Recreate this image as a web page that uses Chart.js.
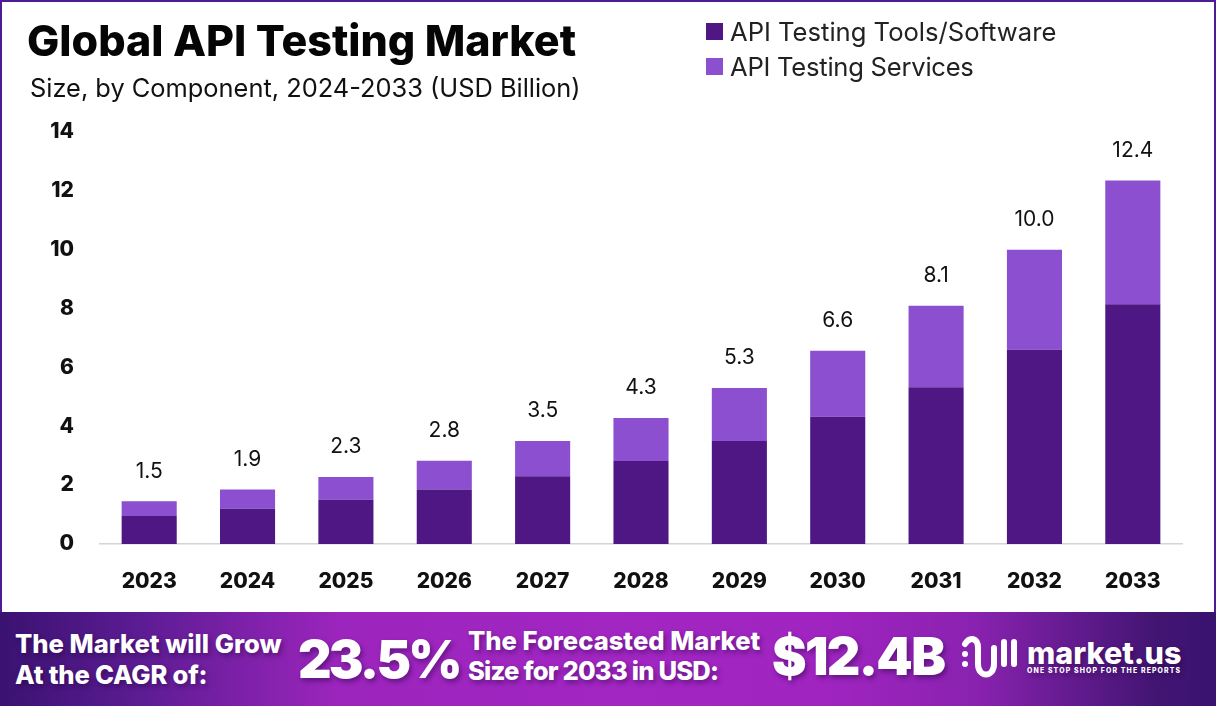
<!DOCTYPE html>
<html>
<head>
<meta charset="utf-8">
<title>Global API Testing Market</title>
<script src="https://cdn.jsdelivr.net/npm/chart.js@4/dist/chart.umd.min.js"></script>
<style>
    html, body { margin: 0; padding: 0; background: #fff; }
    body { width: 1216px; height: 706px; position: relative; overflow: hidden; font-family: Inter, sans-serif; color: #000; }
    .txt { position: absolute; white-space: nowrap; line-height: 1; }
    #frame { position: absolute; left: 0; top: 0; width: 1212px; height: 612px; border: 2px solid #4f1a96; border-bottom: 0; }
    #chartBox { position: absolute; left: 0; top: 0; width: 1216px; height: 612px; }
    #title { left: 27px; top: 18.5px; font-size: 43px; font-weight: 800; color: #050505; }
    #subtitle { left: 30px; top: 75px; font-size: 25.4px; font-weight: 400; color: #111; }
    .legendRow { position: absolute; left: 706px; font-size: 25.6px; color: #222; white-space: nowrap; line-height: 1; }
    .legendRow i { position: absolute; left: 0; top: 4px; width: 17px; height: 17px; }
    .legendRow span { position: absolute; left: 24px; top: 0; }
    #banner { position: absolute; left: 0; top: 612px; width: 1216px; height: 94px;
        background: linear-gradient(90deg, #3a1270 0%, #5e1c94 12%, #9c25bd 28%, #a226c2 50%, #a024c0 68%, #8a22b0 80%, #431573 95%, #3a1270 100%); }
    #banner .txt { color: #fff; text-shadow: 2px 3px 5px rgba(30, 0, 60, .45); }
    .small { font-size: 25.6px; font-weight: 800; }
    .big { font-size: 52px; font-weight: 900; }
</style>
</head>
<body>
<div id="frame"></div>
<div id="chartBox"><canvas id="apiChart" width="1216" height="612"></canvas></div>
<div class="txt" id="title">Global API Testing Market</div>
<div class="txt" id="subtitle">Size, by Component, 2024-2033 (USD Billion)</div>
<div id="legendBox"></div>
<div id="banner">
    <div class="txt small" style="left:15px;top:19px">The Market will Grow</div>
    <div class="txt small" style="left:15px;top:50px;letter-spacing:-0.2px">At the CAGR of:</div>
    <div class="txt big" style="left:298px;top:22px;letter-spacing:-2.8px">23.5%</div>
    <div class="txt small" style="left:468px;top:16px">The Forecasted Market</div>
    <div class="txt small" style="left:468px;top:46px;letter-spacing:-0.8px">Size for 2033 in USD:</div>
    <div class="txt big" style="left:772px;top:19px;letter-spacing:-1.7px">$12.4B</div>
    <svg style="position:absolute;left:960px;top:22px" width="64" height="50" viewBox="0 0 64 50" fill="none" stroke="#fff" stroke-linecap="round" stroke-width="6">
        <circle cx="5" cy="20" r="2" fill="#fff" stroke-width="2"/>
        <circle cx="5" cy="30" r="2" fill="#fff" stroke-width="2"/>
        <path d="M5 10 C10 2 18 4 18 14 V30 C18 44 34 44 34 30 V14"/>
        <path d="M44 8 V30"/>
        <path d="M54 8 V30"/>
    </svg>
    <div class="txt" style="left:1027px;top:26px;font-size:30.5px;font-weight:800;color:#fff">market.us</div>
    <div class="txt" style="left:1027px;top:56px;font-size:6.9px;font-weight:800;letter-spacing:1.15px;color:#fff">ONE STOP SHOP FOR THE REPORTS</div>
</div>
<script>
const years = ['2023', '2024', '2025', '2026', '2027', '2028', '2029', '2030', '2031', '2032', '2033'];
const toolsValues = [0.95, 1.2, 1.5, 1.85, 2.3, 2.82, 3.5, 4.32, 5.33, 6.6, 8.15];
const servicesValues = [0.5, 0.65, 0.78, 0.98, 1.2, 1.46, 1.8, 2.25, 2.77, 3.4, 4.2];
const totalLabels = ['1.5', '1.9', '2.3', '2.8', '3.5', '4.3', '5.3', '6.6', '8.1', '10.0', '12.4'];
const seriesNames = ['API Testing Tools/Software', 'API Testing Services'];
const seriesColors = ['#4e1784', '#8b4fcf'];
const legendSpacing = ['0px', '-0.25px'];

// Draws the total above each stack
const totalsPlugin = {
    id: 'totals',
    afterDatasetsDraw(chart) {
        const ctx = chart.ctx;
        const topBars = chart.getDatasetMeta(1).data;
        ctx.save();
        ctx.font = '400 21px Inter';
        ctx.fillStyle = '#111';
        ctx.textAlign = 'center';
        ctx.textBaseline = 'middle';
        topBars.forEach((bar, i) => {
            ctx.fillText(totalLabels[i], bar.x, bar.y - 30);
        });
        ctx.restore();
    }
};

new Chart(document.getElementById('apiChart').getContext('2d'), {
    type: 'bar',
    data: {
        labels: years,
        datasets: [
            { label: seriesNames[0], data: toolsValues, backgroundColor: seriesColors[0] },
            { label: seriesNames[1], data: servicesValues, backgroundColor: seriesColors[1] }
        ]
    },
    options: {
        responsive: false,
        animation: false,
        layout: { padding: { left: 0, right: 34, top: 132, bottom: 0 } },
        categoryPercentage: 1,
        barPercentage: 0.56,
        plugins: { legend: { display: false }, tooltip: { enabled: false } },
        scales: {
            x: {
                stacked: true,
                afterFit(scale) { scale.height = 68; },
                grid: { display: false, drawTicks: false },
                border: { color: '#d4d4d4', width: 1.5 },
                ticks: { padding: 25, color: '#111', font: { family: 'Inter', size: 21, weight: '800' }, maxRotation: 0, autoSkip: false }
            },
            y: {
                stacked: true,
                min: 0,
                max: 14,
                afterFit(scale) { scale.width = 100; },
                grid: { display: false, drawTicks: false },
                border: { display: false },
                ticks: { stepSize: 2, padding: 26, color: '#111', font: { family: 'Inter', size: 21, weight: '800' } }
            }
        }
    },
    plugins: [totalsPlugin]
});

// Legend rows in the top right corner
const legendBox = document.getElementById('legendBox');
seriesNames.forEach((name, i) => {
    const row = document.createElement('div');
    row.className = 'legendRow';
    row.style.top = (19 + i * 35) + 'px';
    row.innerHTML = '<i style="background:' + seriesColors[i] + '"></i><span style="letter-spacing:' + legendSpacing[i] + '">' + name + '</span>';
    legendBox.appendChild(row);
});
</script>
</body>
</html>
